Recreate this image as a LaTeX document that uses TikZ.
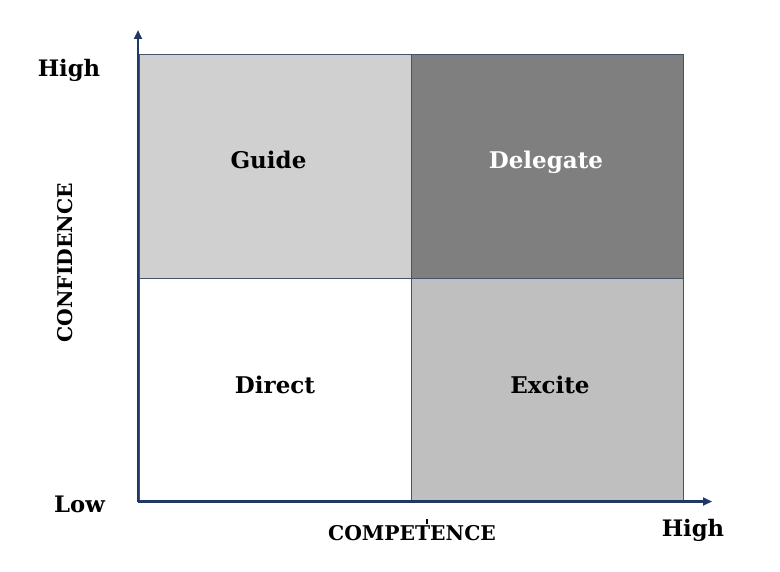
\documentclass[tikz,border=0pt]{standalone}
\usepackage{fontspec}
\setmainfont{DejaVu Serif}
\usetikzlibrary{arrows.meta}
\definecolor{axisblue}{HTML}{1F3864}
\definecolor{quadedge}{HTML}{44546A}
\definecolor{guidefill}{HTML}{D0D0D0}
\definecolor{delegatefill}{HTML}{7F7F7F}
\definecolor{excitefill}{HTML}{BFBFBF}
\begin{document}
\begin{tikzpicture}[x=1pt,y=-1pt,
  quad/.style={draw=quadedge, line width=1pt, inner sep=0pt, anchor=north west,
               minimum width=272pt, minimum height=224pt},
  qtext/.style={font=\bfseries\fontsize{23}{26}\selectfont, anchor=base},
  axtext/.style={font=\bfseries\fontsize{22.7}{26}\selectfont, anchor=base},
  captext/.style={font=\bfseries\fontsize{20.3}{24}\selectfont},
  axis/.style={draw=axisblue, line width=2.4pt, -{Triangle[length=9pt,width=8pt]}}]
\useasboundingbox (0,0) rectangle (780,572);
% quadrants
\node[quad, fill=guidefill] (guide) at (139,54) {};
\node[quad, fill=delegatefill] (delegate) at (411,54) {};
\node[quad, fill=white] (direct) at (139,278) {};
\node[quad, fill=excitefill] (excite) at (411,278) {};
% quadrant labels
\node[qtext] (tguide) at (268.5,169) {Guide};
\node[qtext, text=white] (tdelegate) at (546,169) {Delegate};
\node[qtext] (tdirect) at (275,393) {Direct};
\node[qtext] (texcite) at (550,393) {Excite};
% axes
\coordinate (origin) at (138,501.5);
\coordinate (ytip) at (138,30);
\coordinate (xtip) at (712,501.5);
\draw[axis] (origin) -- (ytip);
\draw[axis] (origin) -- (xtip);
% axis labels
\node[axtext] (yhigh) at (69,77) {High};
\node[axtext] (ylow) at (79.5,512.5) {Low};
\node[axtext] (xhigh) at (693,536.5) {High};
\node[captext, anchor=base] (xlabel) at (412,540) {COMPETENCE};
\node[captext, rotate=90] (ylabel) at (65,263) {CONFIDENCE};
\coordinate (tickA) at (427,519);
\coordinate (tickB) at (427,524);
\draw[black, line width=1.5pt] (tickA) -- (tickB);
\end{tikzpicture}
\end{document}
